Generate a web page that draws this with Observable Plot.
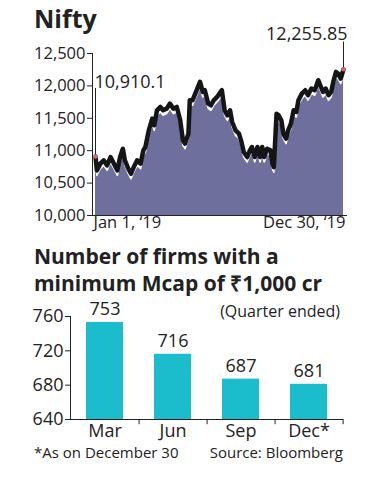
<!DOCTYPE html>
<html><head><meta charset="utf-8">
<script src="https://cdn.jsdelivr.net/npm/d3@7"></script>
<script src="https://cdn.jsdelivr.net/npm/@observablehq/plot@0.6"></script>
<style>
body{margin:0;background:#fff;font-family:"Open Sans",sans-serif;color:#222;}
#wrap{position:relative;width:374px;height:477px;overflow:hidden;background:#fff;}
.abs{position:absolute;white-space:nowrap;}
#top,#bars{position:absolute;left:0;}
#top{top:0;}
#bars{top:290px;}
</style></head><body><div id="wrap">
<div id="top"></div>
<div id="bars"></div>
<div class="abs" style="left:34px;top:1px;font-size:25px;font-weight:700;">Nifty</div>
<div class="abs" style="left:34px;top:243px;font-size:21px;font-weight:700;line-height:27px;">Number of firms with a<br>minimum Mcap of ₹1,000 cr</div>
<div class="abs" style="right:34px;top:300px;font-size:16px;">(Quarter ended)</div>
<div class="abs" style="left:34px;top:442px;font-size:15px;">*As on December 30</div>
<div class="abs" style="right:31px;top:442px;font-size:15px;">Source: Bloomberg</div>
</div>
<script>
// ---- Nifty daily close (approx.) ----
const niftyDates = ["2019-01-01","2019-01-03","2019-01-08","2019-01-13","2019-01-18","2019-01-23","2019-01-28","2019-02-02","2019-02-06","2019-02-10","2019-02-13","2019-02-18","2019-02-22","2019-02-26","2019-03-03","2019-03-08","2019-03-12","2019-03-15","2019-03-20","2019-03-25","2019-03-28","2019-04-01","2019-04-06","2019-04-10","2019-04-15","2019-04-20","2019-04-25","2019-04-30","2019-05-05","2019-05-09","2019-05-12","2019-05-17","2019-05-19","2019-05-23","2019-05-27","2019-05-30","2019-06-03","2019-06-07","2019-06-10","2019-06-15","2019-06-19","2019-06-23","2019-06-28","2019-07-03","2019-07-05","2019-07-09","2019-07-13","2019-07-17","2019-07-20","2019-07-25","2019-07-30","2019-08-02","2019-08-06","2019-08-11","2019-08-15","2019-08-18","2019-08-22","2019-08-26","2019-08-30","2019-09-02","2019-09-05","2019-09-09","2019-09-14","2019-09-17","2019-09-19","2019-09-23","2019-09-26","2019-09-30","2019-10-03","2019-10-07","2019-10-10","2019-10-14","2019-10-18","2019-10-22","2019-10-25","2019-10-30","2019-11-04","2019-11-08","2019-11-13","2019-11-18","2019-11-23","2019-11-26","2019-11-30","2019-12-04","2019-12-08","2019-12-12","2019-12-15","2019-12-19","2019-12-22","2019-12-26","2019-12-30"];
const niftyValues = [10910.1,10696,10799,10851,10773,10902,10799,10696,10902,11031,10851,10722,10644,10747,10851,10799,11005,11057,11314,11495,11392,11624,11675,11624,11649,11727,11649,11675,11469,11160,11108,11263,11778,11778,11881,11959,12062,11907,11933,11727,11701,11778,11830,11907,11933,11624,11546,11624,11443,11314,11263,11160,10979,10902,11005,11057,10902,11057,10902,11057,10902,11031,11005,10799,10747,11572,11546,11469,11263,11186,11314,11418,11624,11598,11778,11881,11933,11856,11959,11933,12088,12010,11907,11959,11856,11907,12062,12216,12191,12113,12255.85];
const niftyYTicks = [10000,10500,11000,11500,12000,12500];
const niftyXLabels = ["Jan 1, \u201819","Dec 30, \u201819"];

// ---- Firms with Mcap >= Rs 1,000 cr ----
const quarters = ["Mar","Jun","Sep","Dec*"];
const firmCounts = [753,716,687,681];
const firmYTicks = [640,680,720,760];

const FONT = '"Open Sans", sans-serif';
const nifty = niftyDates.map((d,i)=>({date:new Date(d), value:niftyValues[i]}));
const first = nifty[0], last = nifty[nifty.length-1];
const fmt = d3.format(",");

const topChart = Plot.plot({
  width:374, height:240, marginTop:53, marginBottom:25, marginLeft:92, marginRight:27,
  style:{fontFamily:FONT, fontSize:"16.5px", color:"#222", background:"transparent", overflow:"visible"},
  x:{type:"utc", insetLeft:3, insetRight:4, axis:null},
  y:{domain:[niftyYTicks[0], niftyYTicks[niftyYTicks.length-1]], ticks:niftyYTicks, tickFormat:fmt, tickSize:5, tickPadding:2, label:null, line:true},
  marks:[
    Plot.areaY(nifty,{x:"date", y1:niftyYTicks[0], y2:"value", fill:"#6f6f9e", dy:5, clip:true}),
    Plot.lineY(nifty,{x:"date", y:"value", stroke:"#fff", strokeWidth:1.6, dy:5}),
    Plot.lineY(nifty,{x:"date", y:"value", stroke:"#151515", strokeWidth:4.5, strokeLinejoin:"round"}),
    Plot.ruleY([niftyYTicks[0]],{stroke:"#222"}),
    Plot.ruleX([first],{x:"date", y1:"value", y2:d=>d.value+1050, stroke:"#222", strokeWidth:1}),
    Plot.ruleX([last],{x:"date", y1:"value", y2:d=>d.value+420, stroke:"#222", strokeWidth:1}),
    Plot.dot([first,last],{x:"date", y:"value", r:2.3, fill:"#d9646e", stroke:"none"}),
    Plot.text([first],{x:"date", y:"value", text:d=>fmt(d.value), dy:-74, dx:-1, textAnchor:"start", fontSize:18, fill:"#222"}),
    Plot.text([last],{x:"date", y:"value", text:d=>fmt(d.value), dy:-35, dx:4, textAnchor:"end", fontSize:18, fill:"#222"}),
    Plot.text([first],{x:"date", frameAnchor:"bottom", text:()=>niftyXLabels[0], dy:12, dx:-2, textAnchor:"start", fontSize:16.5, fill:"#222"}),
    Plot.text([last],{x:"date", frameAnchor:"bottom", text:()=>niftyXLabels[1], dy:12, dx:2, textAnchor:"end", fontSize:16.5, fill:"#222"})
  ]
});
document.getElementById("top").appendChild(topChart);

const firms = quarters.map((q,i)=>({q, v:firmCounts[i]}));
const y0 = firmYTicks[0];
const barChart = Plot.plot({
  width:374, height:160, marginTop:26, marginBottom:31, marginLeft:70, marginRight:31,
  style:{fontFamily:FONT, fontSize:"18px", color:"#222", background:"transparent", overflow:"visible"},
  x:{domain:quarters, paddingInner:0.45, paddingOuter:0.225, tickSize:0, tickPadding:5, label:null},
  y:{domain:[y0, firmYTicks[firmYTicks.length-1]], ticks:firmYTicks, tickSize:5, tickPadding:2, label:null, line:true},
  marks:[
    Plot.barY(firms,{x:"q", y1:y0, y2:"v", fill:"#1bbdcd"}),
    Plot.text(firms,{x:"q", y:"v", text:d=>String(d.v), dy:-13, fontSize:18, fill:"#222"}),
    Plot.ruleY([y0],{stroke:"#222"}),
    Plot.ruleX(quarters,{x:d=>d, dx:34.1, y1:y0, y2:y0-6, stroke:"#222"})
  ]
});
document.getElementById("bars").appendChild(barChart);
</script>
</body></html>
